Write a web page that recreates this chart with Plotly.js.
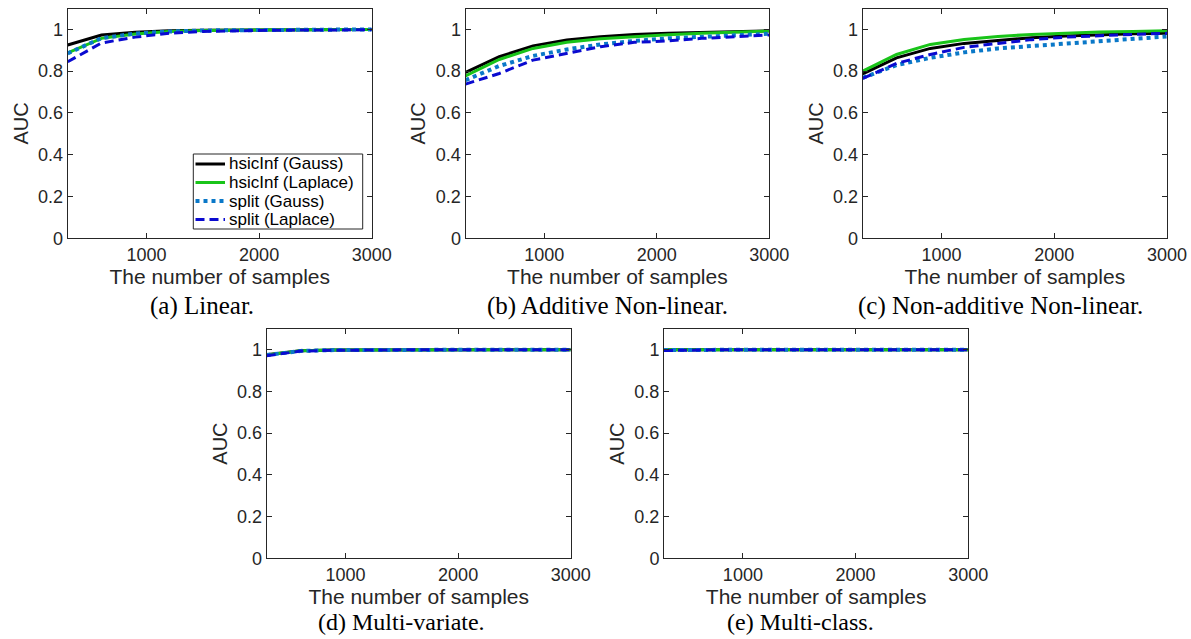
<!DOCTYPE html>
<html>
<head>
<meta charset="utf-8">
<script src="https://cdn.plot.ly/plotly-3.0.1.min.js"></script>
<style>html,body{margin:0;padding:0;background:#fff;}#chart{width:1191px;height:639px;}</style>
</head>
<body>
<div id="chart"></div>
<script>
// ---- data ----
const samples = [300, 600, 900, 1200, 1500, 1800, 2100, 2400, 2700, 3000];
const seriesNames = ['hsicInf (Gauss)', 'hsicInf (Laplace)', 'split (Gauss)', 'split (Laplace)'];
const panelCaptions = ['(a) Linear.', '(b) Additive Non-linear.', '(c) Non-additive Non-linear.', '(d) Multi-variate.', '(e) Multi-class.'];
const yTickVals = [0, 0.2, 0.4, 0.6, 0.8, 1];
const yTickText = ['0', '0.2', '0.4', '0.6', '0.8', '1'];
const xTickVals = [1000, 2000, 3000];
const xTickText = ['1000', '2000', '3000'];

// (a) Linear
const linHsicGauss   = [0.925, 0.973, 0.986, 0.993, 0.996, 0.997, 0.998, 0.998, 0.999, 0.999];
const linHsicLaplace = [0.888, 0.957, 0.978, 0.990, 0.995, 0.997, 0.998, 0.998, 0.999, 0.999];
const linSplitGauss  = [0.885, 0.958, 0.980, 0.990, 0.995, 0.997, 0.998, 0.998, 0.999, 0.999];
const linSplitLaplace= [0.845, 0.935, 0.963, 0.982, 0.990, 0.994, 0.996, 0.997, 0.998, 0.998];
// (b) Additive non-linear
const addHsicGauss   = [0.794, 0.869, 0.921, 0.949, 0.965, 0.976, 0.981, 0.986, 0.989, 0.993];
const addHsicLaplace = [0.777, 0.856, 0.909, 0.938, 0.955, 0.966, 0.974, 0.981, 0.986, 0.992];
const addSplitGauss  = [0.757, 0.825, 0.873, 0.904, 0.928, 0.945, 0.957, 0.965, 0.970, 0.979];
const addSplitLaplace= [0.738, 0.789, 0.853, 0.885, 0.917, 0.938, 0.945, 0.957, 0.965, 0.973];
// (c) Non-additive non-linear
const nonHsicGauss   = [0.787, 0.864, 0.909, 0.933, 0.947, 0.960, 0.968, 0.974, 0.979, 0.982];
const nonHsicLaplace = [0.800, 0.880, 0.928, 0.952, 0.966, 0.976, 0.982, 0.988, 0.990, 0.993];
const nonSplitGauss  = [0.768, 0.829, 0.864, 0.890, 0.909, 0.921, 0.933, 0.945, 0.953, 0.966];
const nonSplitLaplace= [0.765, 0.837, 0.880, 0.914, 0.933, 0.951, 0.963, 0.971, 0.976, 0.981];
// (d) Multi-variate
const mvHsicGauss    = [0.976, 0.995, 0.998, 0.999, 1.000, 1.000, 1.000, 1.000, 1.000, 1.000];
const mvHsicLaplace  = [0.975, 0.995, 0.998, 0.999, 1.000, 1.000, 1.000, 1.000, 1.000, 1.000];
const mvSplitGauss   = [0.974, 0.994, 0.998, 0.999, 1.000, 1.000, 1.000, 1.000, 1.000, 1.000];
const mvSplitLaplace = [0.971, 0.993, 0.997, 0.999, 0.999, 1.000, 1.000, 1.000, 1.000, 1.000];
// (e) Multi-class
const mcHsicGauss    = [0.999, 1.000, 1.000, 1.000, 1.000, 1.000, 1.000, 1.000, 1.000, 1.000];
const mcHsicLaplace  = [0.999, 1.000, 1.000, 1.000, 1.000, 1.000, 1.000, 1.000, 1.000, 1.000];
const mcSplitGauss   = [0.998, 1.000, 1.000, 1.000, 1.000, 1.000, 1.000, 1.000, 1.000, 1.000];
const mcSplitLaplace = [0.996, 0.999, 1.000, 1.000, 1.000, 1.000, 1.000, 1.000, 1.000, 1.000];

const panels = [
  [linHsicGauss, linHsicLaplace, linSplitGauss, linSplitLaplace],
  [addHsicGauss, addHsicLaplace, addSplitGauss, addSplitLaplace],
  [nonHsicGauss, nonHsicLaplace, nonSplitGauss, nonSplitLaplace],
  [mvHsicGauss, mvHsicLaplace, mvSplitGauss, mvSplitLaplace],
  [mcHsicGauss, mcHsicLaplace, mcSplitGauss, mcSplitLaplace]
];

// ---- styles ----
const W = 1191, H = 639;
const lineStyles = [
  {color: '#000000', width: 3, dash: 'solid'},
  {color: '#19c419', width: 3, dash: 'solid'},
  {color: '#0a78c8', width: 4, dash: 'dot'},
  {color: '#0a0ad0', width: 3, dash: '9px,5px'}
];
const FONT = 'Liberation Sans, Arial, sans-serif';
const AX = '#262626';
// pixel boxes [left, right, top, bottom]
const boxes = [
  [67.7, 371.7, 8.5, 238.3],
  [465.5, 769.3, 8.5, 238.3],
  [862.7, 1167.0, 8.5, 238.3],
  [266.7, 570.7, 328.8, 558.3],
  [664.0, 968.3, 328.8, 558.3]
];
const captionX = [202, 607, 1000, 401, 800];
const captionY = [306, 306, 306, 622, 622];
const captionSize = [25, 25, 25, 24, 24];
const xTitleStandoff = [4, 4, 4, 1, 1];

// legend box (pixels) drawn inside panel (a)
const legendBox = {left: 193.3, right: 362.7, top: 154, bottom: 229};
const legendRow0 = 164, legendRowStep = 18.5;
const legendSampleX = [195.5, 225], legendTextX = 226.5;

const traces = [];
const layout = {
  width: W, height: H,
  margin: {l: 0, r: 0, t: 0, b: 0},
  paper_bgcolor: '#ffffff', plot_bgcolor: '#ffffff',
  showlegend: false,
  annotations: [],
  shapes: []
};

panels.forEach((series, p) => {
  const sfx = p === 0 ? '' : String(p + 1);
  const b = boxes[p];
  series.forEach((vals, s) => {
    traces.push({
      type: 'scatter', mode: 'lines',
      x: samples, y: vals,
      xaxis: 'x' + sfx, yaxis: 'y' + sfx,
      name: seriesNames[s],
      line: lineStyles[s],
      hoverinfo: 'x+y+name'
    });
  });
  const common = {
    showline: true, linecolor: AX, linewidth: 1, mirror: 'ticks',
    ticks: 'inside', ticklen: 5, tickwidth: 1, tickcolor: AX,
    tickfont: {family: FONT, size: 18, color: AX},
    showgrid: false, zeroline: false, fixedrange: true
  };
  layout['xaxis' + sfx] = Object.assign({}, common, {
    domain: [b[0] / W, b[1] / W],
    anchor: 'y' + sfx,
    range: [300, 3000],
    tickmode: 'array', tickvals: xTickVals, ticktext: xTickText,
    title: {text: 'The number of samples', font: {family: FONT, size: 21, color: AX}, standoff: xTitleStandoff[p]}
  });
  layout['yaxis' + sfx] = Object.assign({}, common, {
    domain: [1 - b[3] / H, 1 - b[2] / H],
    anchor: 'x' + sfx,
    range: [0, 1.1],
    tickmode: 'array', tickvals: yTickVals, ticktext: yTickText,
    title: {text: 'AUC', font: {family: FONT, size: 20, color: AX}, standoff: 4}
  });
  layout.annotations.push({
    text: panelCaptions[p], xref: 'paper', yref: 'paper',
    x: captionX[p] / W, y: 1 - captionY[p] / H,
    xanchor: 'center', yanchor: 'middle', showarrow: false,
    font: {family: 'Liberation Serif, Times New Roman, serif', size: captionSize[p], color: '#000000'}
  });
});

// legend (drawn as a box with sample lines + labels, matching the original's compact rows)
layout.shapes.push({
  type: 'rect', xref: 'paper', yref: 'paper', layer: 'above',
  x0: legendBox.left / W, x1: legendBox.right / W,
  y0: 1 - legendBox.bottom / H, y1: 1 - legendBox.top / H,
  fillcolor: '#ffffff', line: {color: AX, width: 1}
});
seriesNames.forEach((name, s) => {
  const yc = 1 - (legendRow0 + s * legendRowStep) / H;
  layout.shapes.push({
    type: 'line', xref: 'paper', yref: 'paper', layer: 'above',
    x0: legendSampleX[0] / W, x1: legendSampleX[1] / W, y0: yc, y1: yc,
    line: {color: lineStyles[s].color, width: lineStyles[s].width, dash: lineStyles[s].dash}
  });
  layout.annotations.push({
    text: name, xref: 'paper', yref: 'paper',
    x: legendTextX / W, y: yc, xanchor: 'left', yanchor: 'middle',
    showarrow: false,
    font: {family: FONT, size: 17, color: '#000000'}
  });
});

Plotly.newPlot('chart', traces, layout, {displayModeBar: false, staticPlot: true});
</script>
</body>
</html>
